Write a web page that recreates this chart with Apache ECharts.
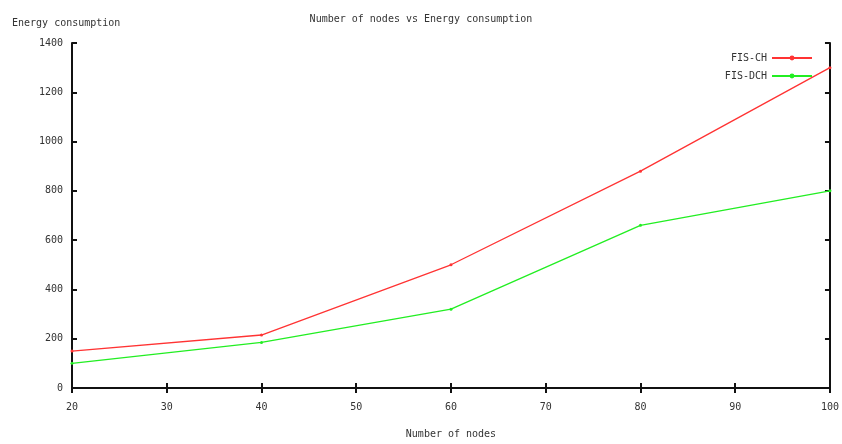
<!DOCTYPE html>
<html>
<head>
<meta charset="utf-8">
<script src="https://cdn.jsdelivr.net/npm/echarts@6/dist/echarts.min.js"></script>
<style>
  html, body { margin: 0; padding: 0; background: #fff; }
  #container { width: 842px; height: 444px; }
</style>
</head>
<body>
<div id="container"></div>
<script>
var nodes = [20, 40, 60, 80, 100];
var fisCH = [150, 215, 500, 880, 1300];
var fisDCH = [100, 185, 320, 660, 800];

var font = 'DejaVu Sans Mono';
var txtColor = '#333';

function pairs(xs, ys) {
    var out = [];
    for (var i = 0; i < xs.length; i++) {
        out.push([xs[i], ys[i]]);
    }
    return out;
}

var dom = document.getElementById('container');
var myChart = echarts.init(dom);

var axisLine = { show: true, lineStyle: { color: '#111', width: 2 } };
var tickIn = { show: true, inside: true, length: 5, lineStyle: { color: '#111', width: 2 } };

var option = {
    backgroundColor: '#fff',
    animation: false,
    title: {
        text: 'Number of nodes vs Energy consumption',
        left: 'center',
        top: 9,
        textStyle: { fontFamily: font, fontSize: 10, fontWeight: 'normal', color: txtColor }
    },
    legend: {
        top: 48,
        right: 24,
        orient: 'vertical',
        align: 'right',
        itemWidth: 40,
        itemHeight: 6,
        itemGap: 8,
        textStyle: { fontFamily: font, fontSize: 10, color: txtColor },
        data: ['FIS-CH', 'FIS-DCH']
    },
    grid: { left: 72, right: 11, top: 43, bottom: 53 },
    xAxis: [{
        type: 'value',
        min: 20, max: 100, interval: 10,
        name: 'Number of nodes',
        nameLocation: 'middle',
        nameGap: 41,
        nameTextStyle: { fontFamily: font, fontSize: 10, color: txtColor },
        axisLine: axisLine,
        axisTick: tickIn,
        axisLabel: { fontFamily: font, fontSize: 10, color: txtColor, margin: 14 },
        splitLine: { show: false }
    }, {
        type: 'value',
        position: 'top',
        min: 20, max: 100, interval: 10,
        axisLine: axisLine,
        axisTick: tickIn,
        axisLabel: { show: false },
        splitLine: { show: false }
    }],
    yAxis: [{
        type: 'value',
        min: 0, max: 1400, interval: 200,
        name: 'Energy consumption',
        nameLocation: 'end',
        nameGap: 15,
        nameTextStyle: { fontFamily: font, fontSize: 10, color: txtColor, align: 'left', padding: [0, 0, 0, -60] },
        axisLine: axisLine,
        axisTick: tickIn,
        axisLabel: {
            fontFamily: font, fontSize: 10, color: txtColor, margin: 9,
            formatter: function (v) { return String(v); }
        },
        splitLine: { show: false }
    }, {
        type: 'value',
        position: 'right',
        min: 0, max: 1400, interval: 200,
        axisLine: axisLine,
        axisTick: tickIn,
        axisLabel: { show: false },
        splitLine: { show: false }
    }],
    series: [{
        name: 'FIS-CH',
        type: 'line',
        data: pairs(nodes, fisCH),
        symbol: 'circle',
        symbolSize: 3,
        lineStyle: { color: '#ff3333', width: 1.3 },
        itemStyle: { color: '#ff3333' }
    }, {
        name: 'FIS-DCH',
        type: 'line',
        data: pairs(nodes, fisDCH),
        symbol: 'circle',
        symbolSize: 3,
        lineStyle: { color: '#22ee22', width: 1.3 },
        itemStyle: { color: '#22ee22' }
    }]
};

myChart.setOption(option, true);
</script>
</body>
</html>
